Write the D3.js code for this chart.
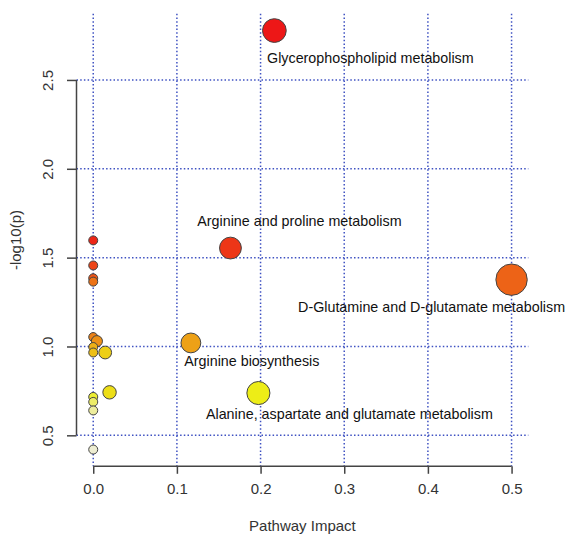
<!DOCTYPE html>
<html>
<head>
<meta charset="utf-8">
<script src="https://cdn.jsdelivr.net/npm/d3@7"></script>
<style>
  body { margin: 0; background: #fff; }
  svg { font-family: "Liberation Sans", Arial, sans-serif; }
</style>
</head>
<body>
<svg id="chart" width="569" height="535"></svg>
<script>
// pathway data
const pathways = [
  'Glycerophospholipid metabolism',
  'Arginine and proline metabolism',
  'D-Glutamine and D-glutamate metabolism',
  'Arginine biosynthesis',
  'Alanine, aspartate and glutamate metabolism',
  '', '', '', '', '', '', '', '', '', '', '', '', '', ''
];
const impact = [0.2165, 0.164, 0.5, 0.1167, 0.1974,
  0, 0, 0, 0, 0, 0.0044, 0, 0, 0.0143, 0.0195, 0, 0, 0, 0];
const negLogP = [2.778, 1.554, 1.376, 1.02, 0.738,
  1.597, 1.456, 1.384, 1.365, 1.053, 1.03, 0.997, 0.966, 0.966, 0.742, 0.716, 0.688, 0.64, 0.42];

const xTicks = [0, 0.1, 0.2, 0.3, 0.4, 0.5];
const yTicks = [0.5, 1.0, 1.5, 2.0, 2.5];

const svg = d3.select('#chart');
const plot = { left: 76.5, right: 528.3, top: 13.8, bottom: 466.3 };

// R style 4% padding on the data range
function padded(ext) {
  const d = (ext[1] - ext[0]) * 0.04;
  return [ext[0] - d, ext[1] + d];
}

const x = d3.scaleLinear().domain(padded(d3.extent(impact))).range([plot.left, plot.right]);
const y = d3.scaleLinear().domain(padded(d3.extent(negLogP))).range([plot.bottom, plot.top]);
const r = d3.scaleSqrt().domain([0, 0.5]).range([0, 11.2]);

const data = pathways.map(function (name, i) {
  return { name: name, impact: impact[i], p: negLogP[i] };
});

// heat.colors by rank of significance
const ranked = data.slice().sort(function (a, b) { return b.p - a.p; });
const n = ranked.length;
const j = Math.floor(n / 4);
const nHue = n - j;
function tone(c) {
  return d3.rgb(0.84 * c.r + 23, 0.84 * c.g + 23, 0.84 * c.b + 23);
}
ranked.forEach(function (d, i) {
  let c;
  if (i < nHue) {
    c = d3.hsl(60 * i / (nHue - 1), 1, 0.5).rgb();
  } else {
    const k = i - nHue;
    const s = (1 - 1 / (2 * j)) - k * ((1 - 1 / j) / (j - 1));
    c = d3.rgb(255, 255, 255 * (1 - s));
  }
  d.color = tone(c).formatHex();
});

// grid
const grid = svg.append('g')
  .attr('stroke', '#3f52c2')
  .attr('stroke-width', 1.5)
  .attr('stroke-dasharray', '1.5,2.2');

grid.selectAll('.vg')
  .data(xTicks)
  .enter().append('line')
  .attr('x1', function (d) { return x(d); })
  .attr('x2', function (d) { return x(d); })
  .attr('y1', plot.top)
  .attr('y2', plot.bottom);

grid.selectAll('.hg')
  .data(yTicks)
  .enter().append('line')
  .attr('x1', plot.left)
  .attr('x2', plot.right)
  .attr('y1', function (d) { return y(d); })
  .attr('y2', function (d) { return y(d); });

// axes
const xAxis = svg.append('g')
  .attr('transform', 'translate(0,' + plot.bottom + ')')
  .call(d3.axisBottom(x).tickValues(xTicks).tickFormat(d3.format('.1f')).tickSize(7.5).tickPadding(10));

const yAxis = svg.append('g')
  .attr('transform', 'translate(' + plot.left + ',0)')
  .call(d3.axisLeft(y).tickValues(yTicks).tickFormat(d3.format('.1f')).tickSize(9.5).tickPadding(0));

[xAxis, yAxis].forEach(function (a) {
  a.select('.domain').remove();
  a.selectAll('.tick line').attr('stroke', '#444').attr('stroke-width', 1.5);
  a.selectAll('.tick text')
    .attr('fill', '#333')
    .style('font-size', '15px')
    .style('font-family', '"Liberation Sans", Arial, sans-serif');
});

xAxis.append('line')
  .attr('x1', x(xTicks[0])).attr('x2', x(xTicks[xTicks.length - 1]))
  .attr('stroke', '#444').attr('stroke-width', 1.5);

yAxis.append('line')
  .attr('y1', y(yTicks[0])).attr('y2', y(yTicks[yTicks.length - 1]))
  .attr('stroke', '#444').attr('stroke-width', 1.5);

yAxis.selectAll('.tick text')
  .attr('x', 0)
  .attr('dy', 0)
  .attr('text-anchor', 'middle')
  .attr('transform', 'translate(-24,0) rotate(-90)');

// axis titles
svg.append('text')
  .attr('x', (plot.left + plot.right) / 2)
  .attr('y', 531)
  .attr('text-anchor', 'middle')
  .attr('fill', '#333')
  .style('font-size', '15px')
  .text('Pathway Impact');

svg.append('text')
  .attr('transform', 'translate(21,' + ((plot.top + plot.bottom) / 2) + ') rotate(-90)')
  .attr('text-anchor', 'middle')
  .attr('fill', '#333')
  .style('font-size', '15px')
  .text('-log10(p)');

// points
svg.append('g')
  .selectAll('circle')
  .data(data)
  .enter().append('circle')
  .attr('cx', function (d) { return x(d.impact); })
  .attr('cy', function (d) { return y(d.p); })
  .attr('r', function (d) { return 4.5 + r(d.impact); })
  .attr('fill', function (d) { return d.color; })
  .attr('stroke', '#444')
  .attr('stroke-width', 1);

// labels, offset from their point
const labelOffsets = [[96, 27], [69, -27], [-80, 27], [61, 18], [91, 21]];
svg.append('g')
  .selectAll('text')
  .data(data.filter(function (d) { return d.name; }))
  .enter().append('text')
  .attr('x', function (d, i) { return x(d.impact) + labelOffsets[i][0]; })
  .attr('y', function (d, i) { return y(d.p) + labelOffsets[i][1]; })
  .attr('dy', '0.35em')
  .attr('text-anchor', 'middle')
  .attr('fill', '#111')
  .style('font-size', '14.3px')
  .text(function (d) { return d.name; });
</script>
</body>
</html>
